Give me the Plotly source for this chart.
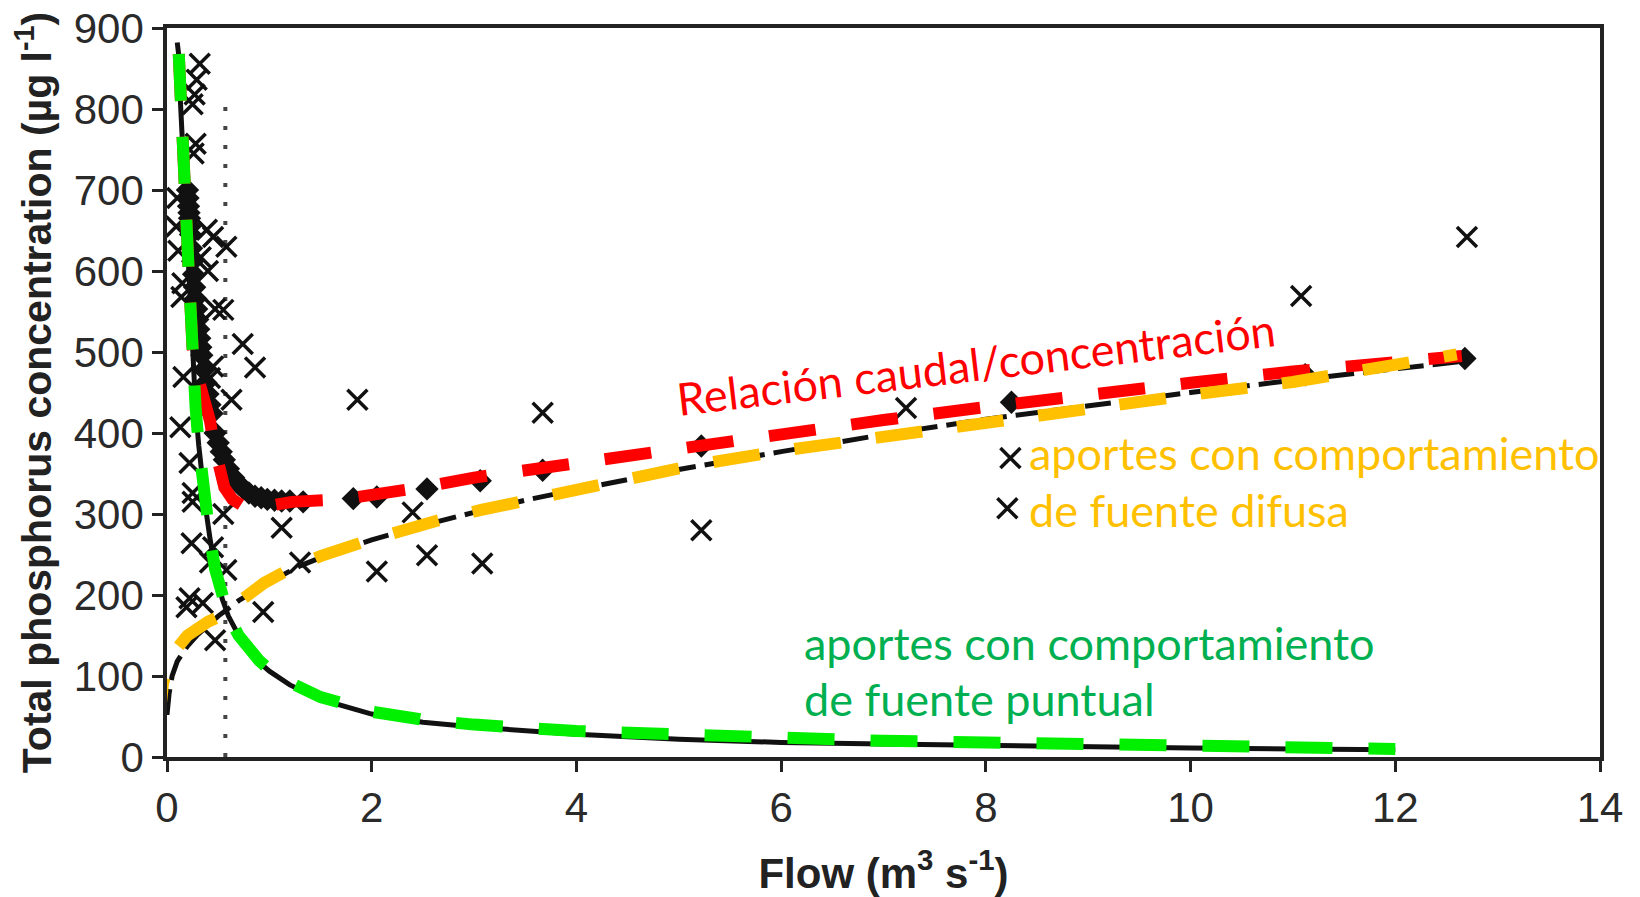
import plotly.graph_objects as go

# ---------------- data ----------------
# model: point-source component (solid black line)
point_flow = [0.10, 0.115, 0.13, 0.15, 0.17, 0.19, 0.21, 0.23, 0.25, 0.28, 0.31, 0.34, 0.38, 0.42,
              0.47, 0.54, 0.60, 0.70, 0.80, 0.90, 1.0, 1.2, 1.5, 2.0, 2.5, 3.0, 4.0, 5.0, 6.0,
              7.0, 8.0, 9.0, 10.0, 11.0, 12.0]
point_conc = [882, 866, 812, 760, 705, 655, 605, 555, 480, 430, 385, 345, 305, 270,
              232, 195, 174, 150, 132, 117, 106, 89, 71, 53, 43, 37, 28, 22, 18,
              16, 14, 12.5, 11, 10, 9]

# model: diffuse-source component (dashed black line)
diff_flow = [0.0, 0.02, 0.05, 0.1, 0.15, 0.2, 0.3, 0.4, 0.5, 0.7, 1.0, 1.3, 1.6, 2.0, 2.5, 3.0,
             3.5, 4.0, 5.0, 6.0, 7.0, 8.0, 9.0, 10.0, 11.0, 12.0, 12.7]
diff_conc = [52, 78, 100, 118, 128, 137, 151, 163, 174, 193, 216, 236, 251, 268, 286, 302,
             317, 330, 355, 377, 398, 417, 434, 450, 465, 479, 489]

# modelled total concentration (black diamonds)
model_flow = [0.20, 0.205, 0.21, 0.215, 0.22, 0.225, 0.23, 0.24, 0.25, 0.26, 0.27, 0.28, 0.29,
              0.30, 0.31, 0.32, 0.33, 0.34, 0.36, 0.38, 0.40, 0.42, 0.44, 0.47, 0.50, 0.53,
              0.56, 0.60, 0.65, 0.70, 0.75, 0.80, 0.86, 0.92, 0.98, 1.05, 1.12, 1.20, 1.33,
              1.82, 2.05, 2.54, 3.06, 3.67, 5.22, 8.25, 11.12, 12.68]
model_conc = [700, 690, 680, 672, 665, 655, 645, 628, 612, 596, 580, 566, 553,
              540, 528, 517, 506, 496, 478, 462, 448, 435, 424, 400, 388, 377,
              367, 356, 345, 337, 331, 326, 322, 320, 318, 317, 316, 316, 315,
              319, 321, 331, 341, 354, 384, 438, 472, 492]

# observed concentrations (crosses)
obs_flow = [0.32, 0.29, 0.27, 0.25, 0.28, 0.26, 0.10, 0.09, 0.11, 0.39, 0.45, 0.58, 0.33,
            0.40, 0.47, 0.55, 0.15, 0.14, 0.74, 0.86, 0.63, 0.45, 0.42, 0.16, 0.13, 0.22,
            0.25, 0.25, 0.55, 1.12, 0.24, 0.45, 0.42, 0.58, 1.30, 2.05, 0.22, 0.35, 0.94,
            0.47, 0.19, 1.86, 3.67, 2.40, 2.54, 3.08, 5.22, 7.22, 8.24, 8.21, 11.08, 12.70]
obs_conc = [856, 836, 818, 806, 757, 745, 690, 655, 625, 651, 642, 630, 617,
            600, 553, 552, 585, 568, 510, 481, 441, 482, 468, 469, 407, 363,
            326, 315, 300, 283, 264, 259, 240, 231, 240, 229, 196, 190, 179,
            144, 185, 441, 425, 302, 249, 239, 280, 431, 369, 307, 569, 642]

# vertical dotted reference line
dotted_flow = [0.57, 0.57]
dotted_conc = [0, 805]

# hand-drawn overlays
red_flow = [0.115, 0.13, 0.15, 0.17, 0.19, 0.21, 0.23, 0.25, 0.30, 0.36, 0.42, 0.46, 0.50, 0.56,
            0.64, 0.74, 0.86, 1.0, 1.22, 1.7, 2.0, 2.5, 3.0, 3.5, 4.0, 4.5, 5.0, 5.5, 6.0, 7.0,
            8.0, 9.0, 10.0, 11.0, 12.0, 12.65]
red_conc = [868, 812, 760, 705, 655, 605, 555, 505, 470, 445, 415, 385, 357, 333,
            318, 310, 307, 309, 315, 318, 323, 333, 345, 354, 364, 372, 381, 390, 399, 416,
            432, 448, 462, 476, 487, 495]

orange_flow = [-0.08, -0.065, -0.04, 0.0, 0.05, 0.11, 0.2, 0.3, 0.4, 0.52, 0.65, 0.78, 0.95,
               1.17, 1.5, 1.93, 2.3, 2.73, 3.07, 3.53, 3.87, 4.33, 4.67, 5.14, 6.0, 7.0, 8.0,
               9.0, 10.0, 11.0, 12.0, 12.6]
orange_conc = [40, 65, 90, 110, 124, 136, 150, 160, 167, 174, 186, 198, 215,
               230, 248, 266, 280, 295, 305, 318, 327, 340, 348, 360, 378, 396, 413,
               430, 447, 463, 482, 497]

green_flow = [0.115, 0.13, 0.15, 0.17, 0.19, 0.21, 0.23, 0.25, 0.28, 0.31, 0.34, 0.38, 0.42,
              0.47, 0.54, 0.60, 0.70, 0.80, 0.90, 1.0, 1.2, 1.5, 2.0, 2.5, 3.0, 4.0, 5.0, 6.0,
              7.0, 8.0, 9.0, 10.0, 11.0, 12.0]
green_conc = [868, 812, 760, 705, 655, 605, 555, 480, 430, 385, 345, 305, 270,
              232, 195, 174, 150, 133, 119, 108, 92, 74, 56, 46, 40, 32, 27, 23,
              20, 18, 16, 14, 12, 10]

x_ticks = [0, 2, 4, 6, 8, 10, 12, 14]
y_ticks = [0, 100, 200, 300, 400, 500, 600, 700, 800, 900]

label_red = "Relación caudal/concentración"
label_diffuse = ["aportes con comportamiento", "de fuente difusa"]
label_point = ["aportes con comportamiento", "de fuente puntual"]

# ---------------- figure ----------------
fig = go.Figure()

fig.add_trace(go.Scatter(x=dotted_flow, y=dotted_conc, mode="lines",
                         line=dict(color="#444444", width=4, dash="4px,15px")))
fig.add_trace(go.Scatter(x=point_flow, y=point_conc, mode="lines",
                         line=dict(color="#111111", width=5)))
fig.add_trace(go.Scatter(x=diff_flow, y=diff_conc, mode="lines",
                         line=dict(color="#111111", width=5, dash="26px,9px")))
fig.add_trace(go.Scatter(x=obs_flow, y=obs_conc, mode="markers",
                         marker=dict(symbol="x-thin", size=20,
                                     line=dict(color="#111111", width=3.5))))
fig.add_trace(go.Scatter(x=model_flow, y=model_conc, mode="markers",
                         marker=dict(symbol="diamond", size=18, color="#111111")))
fig.add_trace(go.Scatter(x=red_flow, y=red_conc, mode="lines",
                         line=dict(color="#ff0000", width=12, dash="47px,36px")))
fig.add_trace(go.Scatter(x=orange_flow, y=orange_conc, mode="lines",
                         line=dict(color="#ffc000", width=12, dash="47px,35px")))
fig.add_trace(go.Scatter(x=green_flow, y=green_conc, mode="lines",
                         line=dict(color="#00f000", width=12, dash="47px,36px")))

ann_font = "Lato, 'Open Sans', sans-serif"
ann_size = 45
fig.add_annotation(x=7.90, y=485, xref="x", yref="y", text=label_red, showarrow=False,
                   textangle=-6.7, xanchor="center", yanchor="middle",
                   font=dict(family=ann_font, size=ann_size, color="#ff0000"))
fig.add_annotation(x=8.40, y=375, xref="x", yref="y", text=label_diffuse[0], showarrow=False,
                   xanchor="left", yanchor="middle",
                   font=dict(family=ann_font, size=ann_size, color="#ffc000"))
fig.add_annotation(x=8.40, y=305, xref="x", yref="y", text=label_diffuse[1], showarrow=False,
                   xanchor="left", yanchor="middle",
                   font=dict(family=ann_font, size=ann_size, color="#ffc000"))
fig.add_annotation(x=6.20, y=141, xref="x", yref="y", text=label_point[0], showarrow=False,
                   xanchor="left", yanchor="middle",
                   font=dict(family=ann_font, size=ann_size, color="#00b050"))
fig.add_annotation(x=6.20, y=72, xref="x", yref="y", text=label_point[1], showarrow=False,
                   xanchor="left", yanchor="middle",
                   font=dict(family=ann_font, size=ann_size, color="#00b050"))

axis_common = dict(showline=True, linecolor="#222222", linewidth=3.5, mirror=True,
                   ticks="outside", ticklen=11, tickwidth=3, tickcolor="#222222",
                   showgrid=False, zeroline=False, ticklabeloverflow="allow",
                   tickfont=dict(family="Liberation Sans, Arial, sans-serif", size=42,
                                 color="#2a2a2a"))

fig.update_xaxes(range=[0, 14], tickvals=x_ticks, ticktext=[str(v) for v in x_ticks],
                 title=dict(text="<b>Flow (m<sup>3</sup> s<sup>-1</sup>)</b>", standoff=30,
                            font=dict(family="Liberation Sans, Arial, sans-serif", size=42,
                                      color="#222222")),
                 **axis_common)
fig.update_yaxes(range=[0, 900], tickvals=y_ticks, ticktext=[str(v) for v in y_ticks],
                 title=dict(text="<b>Total phosphorus concentration (µg l<sup>-1</sup>)</b>",
                            standoff=10,
                            font=dict(family="Liberation Sans, Arial, sans-serif", size=41,
                                      color="#222222")),
                 **axis_common)

fig.update_layout(width=1640, height=897, showlegend=False,
                  paper_bgcolor="white", plot_bgcolor="white",
                  margin=dict(l=167, r=40, t=28, b=140, autoexpand=False))

# remove the browser's default 8px page margin so the figure sits at the top-left corner
fig.write_html("out.html", config={"displayModeBar": False},
               post_script="document.body.style.margin='0';document.body.style.overflow='hidden';")
